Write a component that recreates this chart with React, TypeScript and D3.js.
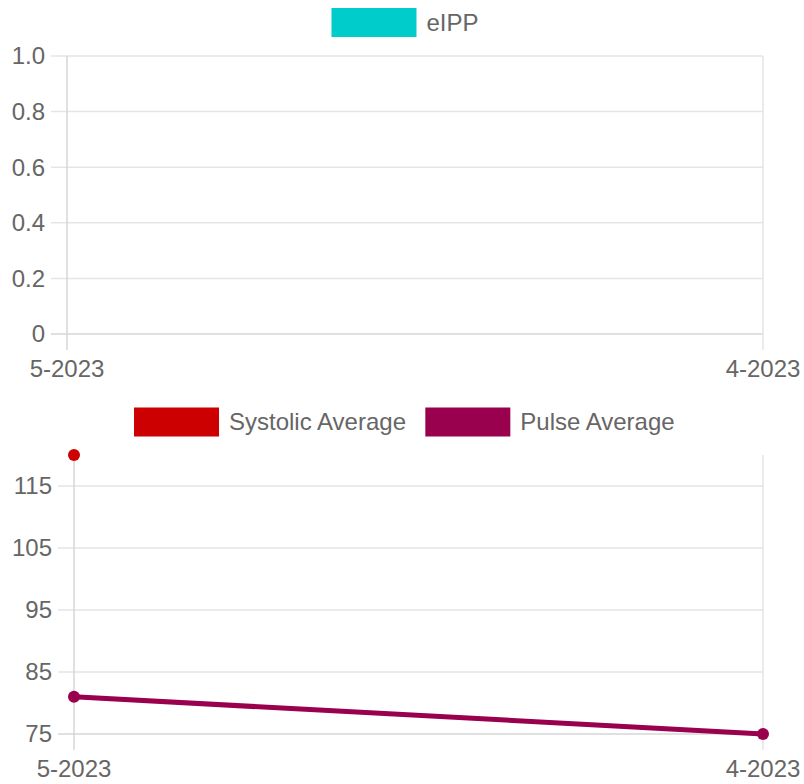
import * as d3 from 'd3';

// data
const labels = ['5-2023', '4-2023'];
const eippValues: (number | null)[] = [null, null];
const systolicAvg: (number | null)[] = [120, null];
const pulseAvg: (number | null)[] = [81, 75];
const topTicks = [0, 0.2, 0.4, 0.6, 0.8, 1.0];
const bottomTicks = [75, 85, 95, 105, 115];

const FONT = '"Liberation Sans", Arial, sans-serif';
const TEXT = '#666';
const GRID = '#e5e5e5';
const AXIS = '#d6d6d6';

interface Series {
  name: string;
  color: string;
  values: (number | null)[];
}

const topSeries: Series[] = [{ name: 'eIPP', color: '#00cccc', values: eippValues }];
const bottomSeries: Series[] = [
  { name: 'Systolic Average', color: '#cc0000', values: systolicAvg },
  { name: 'Pulse Average', color: '#99004d', values: pulseAvg },
];

const ctx = document.createElement('canvas').getContext('2d')!;
function measure(t: string) {
  ctx.font = `24px ${FONT}`;
  return ctx.measureText(t).width;
}

function Legend({ series, cx, cy }: { series: Series[]; cx: number; cy: number }) {
  const boxW = 85, boxH = 29, gap = 10, itemGap = 18;
  const widths = series.map(s => boxW + gap + measure(s.name));
  const total = d3.sum(widths) + itemGap * (series.length - 1);
  let x = cx - total / 2;
  return (
    <g>
      {series.map((s, i) => {
        const x0 = x;
        x += widths[i] + itemGap;
        return (
          <g key={s.name}>
            <rect x={x0} y={cy - boxH / 2} width={boxW} height={boxH} fill={s.color} />
            <text x={x0 + boxW + gap} y={cy} dy="0.35em" fill={TEXT} fontSize={24} fontFamily={FONT}>
              {s.name}
            </text>
          </g>
        );
      })}
    </g>
  );
}

interface PanelProps {
  series: Series[];
  ticks: number[];
  domain: [number, number];
  left: number;
  right: number;
  top: number;
  bottom: number;
  legendY: number;
  fmt: (v: number) => string;
}

function Panel({ series, ticks, domain, left, right, top, bottom, legendY, fmt }: PanelProps) {
  const x = d3.scalePoint<string>().domain(labels).range([left, right]);
  const y = d3.scaleLinear().domain(domain).range([bottom, top]);
  const tickLen = 16;

  const line = d3
    .line<number | null>()
    .defined(d => d !== null)
    .x((d, i) => x(labels[i])!)
    .y(d => y(d as number));

  return (
    <g>
      <Legend series={series} cx={405} cy={legendY} />
      {/* horizontal grid */}
      {ticks.map(t => (
        <g key={t}>
          <line x1={left - tickLen} x2={right} y1={y(t)} y2={y(t)} stroke={t === domain[0] ? AXIS : GRID} strokeWidth={1.5} />
          <text x={left - tickLen - 6} y={y(t)} dy="0.35em" textAnchor="end" fill={TEXT} fontSize={24} fontFamily={FONT}>
            {fmt(t)}
          </text>
        </g>
      ))}
      {/* vertical grid */}
      {labels.map((l, i) => (
        <g key={l}>
          <line x1={x(l)} x2={x(l)} y1={top} y2={bottom + tickLen} stroke={i === 0 ? AXIS : GRID} strokeWidth={1.5} />
          <text x={x(l)} y={bottom + 43} textAnchor="middle" fill={TEXT} fontSize={24} fontFamily={FONT}>
            {l}
          </text>
        </g>
      ))}
      {series.map(s => (
        <g key={s.name}>
          <path d={line(s.values) ?? ''} fill="none" stroke={s.color} strokeWidth={5} />
          {s.values.map((v, i) =>
            v === null ? null : <circle key={i} cx={x(labels[i])} cy={y(v)} r={6} fill={s.color} />
          )}
        </g>
      ))}
    </g>
  );
}

export default function App() {
  return (
    <svg width={804} height={784} style={{ position: 'absolute', left: 0, top: 0 }}>
      <rect width={804} height={784} fill="#fff" />
      <Panel
        series={topSeries}
        ticks={topTicks}
        domain={[0, 1]}
        left={67}
        right={763}
        top={56}
        bottom={334}
        legendY={22.5}
        fmt={v => (v === 0 ? '0' : v.toFixed(1))}
      />
      <Panel
        series={bottomSeries}
        ticks={bottomTicks}
        domain={[75, 120]}
        left={74}
        right={763}
        top={455}
        bottom={734}
        legendY={422}
        fmt={d3.format('d')}
      />
    </svg>
  );
}
